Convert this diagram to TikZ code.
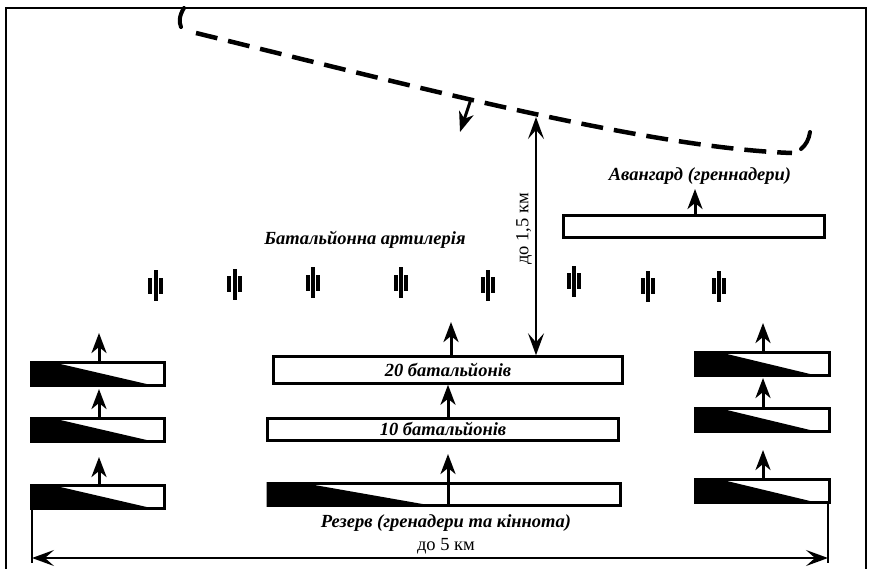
\documentclass[tikz,border=0pt]{standalone}
\usepackage{fontspec}
\setmainfont{Liberation Serif}
\usetikzlibrary{arrows.meta,calc}
\tikzset{
  unit/.style={draw, line width=3pt, fill=white, inner sep=0pt, rectangle},
  fwd/.style={line width=3pt, -{Stealth[length=20pt,width=15pt,inset=6pt]}},
  dim/.style={line width=2pt, {Stealth[length=22pt,width=16pt,inset=9pt]}-{Stealth[length=22pt,width=16pt,inset=9pt]}},
  lbl/.style={font=\bfseries\itshape\fontsize{18.5}{22}\selectfont, inner sep=0pt},
  rlbl/.style={font=\fontsize{18.5}{22}\selectfont, inner sep=0pt},
  gun/.pic={\fill (-2,-15.5) rectangle (2,15.5);
            \fill (-7.3,-8) rectangle (-3.4,8);
            \fill (3.4,-8) rectangle (7.3,8);},
  hook/.style={line width=4pt, line cap=round},
  front/.style={line width=4.5pt, dash pattern=on 22pt off 11pt}
}
\begin{document}
\begin{tikzpicture}[x=1pt,y=-1pt]
\useasboundingbox (0,0) rectangle (874,568);
% frame
\draw[line width=1.6pt] (6,570) -- (6,8) -- (866,8) -- (866,570);

% enemy front line
\draw[hook] (184,8) .. controls (179,16) and (179,22) .. (181,27);
\draw[front] (196,33) .. controls (420,88) and (650,148) .. (792,153);
\draw[hook] (801,149) .. controls (806,145) and (809,139) .. (810,132);
\coordinate (fa) at (471,99);
\coordinate (fb) at (460,132);
\draw[fwd] (fa) -- (fb);

% avant-garde
\node[unit, minimum width=261pt, minimum height=22pt] (AV) at (694,226.5) {};
\coordinate (avtip) at (695,189);
\draw[fwd] (AV.north -| avtip) -- (avtip);
\node[lbl] (AVt) at (700,176) {Авангард (греннадери)};

% artillery
\node[lbl] (ART) at (365,240) {Батальйонна артилерія};
\pic (g1) at (155.5,285.5) {gun};
\pic (g2) at (234.7,284) {gun};
\pic (g3) at (313,282.5) {gun};
\pic (g4) at (401,282.5) {gun};
\pic (g5) at (488,285) {gun};
\pic (g6) at (574,281) {gun};
\pic (g7) at (648,286) {gun};
\pic (g8) at (719,286) {gun};

% centre
\node[unit, minimum width=349pt, minimum height=26.5pt] (B20) at (448,370) {};
\node[lbl] at (B20.center) {20 батальйонів};
\node[unit, minimum width=351pt, minimum height=22pt] (B10) at (443,429) {};
\node[lbl] at (B10.center) {10 батальйонів};
\node[unit, minimum width=352pt, minimum height=21.6pt] (RS) at (444,494.5) {};
\fill (RS.north west) -- ++(32,0) -- ($(RS.south west)+(172,0)$) -- (RS.south west) -- cycle;
\node[lbl] (RSt) at (446,523) {Резерв (гренадери та кіннота)};

\coordinate (a20) at (451,322);
\draw[fwd] (a20 |- B20.north) -- (a20);
\coordinate (a10) at (448,0);
\draw[fwd] (a10 |- B10.north) -- (a10 |- B20.south);
\coordinate (ars) at (448,454);
\draw[fwd] (ars |- RS.south) -- (ars);

% distance to front
\coordinate (d1) at (536,117);
\draw[dim] (d1) -- (d1 |- B20.north);
\node[rlbl, rotate=90] (d1t) at (524,229) {до 1,5 км};

% left wing
\foreach \n/\y/\t in {L1/374/333, L2/430/389, L3/497/457}{
  \node[unit, minimum width=133pt, minimum height=22.5pt] (\n) at (98,\y) {};
  \fill (\n.north west) -- ++(18.5,0) -- ($(\n.south east)+(-7.5,0)$) -- (\n.south west) -- cycle;
  \coordinate (\n a) at (99,\t);
  \draw[fwd] (\n a |- \n.north) -- (\n a);
}
% right wing
\foreach \n/\y/\t in {R1/364/323, R2/420/378, R3/491/450}{
  \node[unit, minimum width=134pt, minimum height=22.5pt] (\n) at (762.5,\y) {};
  \fill (\n.north west) -- ++(21.5,0) -- ($(\n.south east)+(-9.5,0)$) -- (\n.south west) -- cycle;
  \coordinate (\n a) at (763,\t);
  \draw[fwd] (\n a |- \n.north) -- (\n a);
}

% overall width
\coordinate (wl) at (32,563);
\coordinate (wr) at (828,563);
\draw[line width=2pt] (wl |- L3.south) -- (wl);
\draw[line width=2pt] (wr |- R3.south) -- (wr);
\draw[dim] (32,558) coordinate (w1) -- (828,558) coordinate (w2);
\node[rlbl] (wt) at (446,546) {до 5 км};
\end{tikzpicture}
\end{document}
